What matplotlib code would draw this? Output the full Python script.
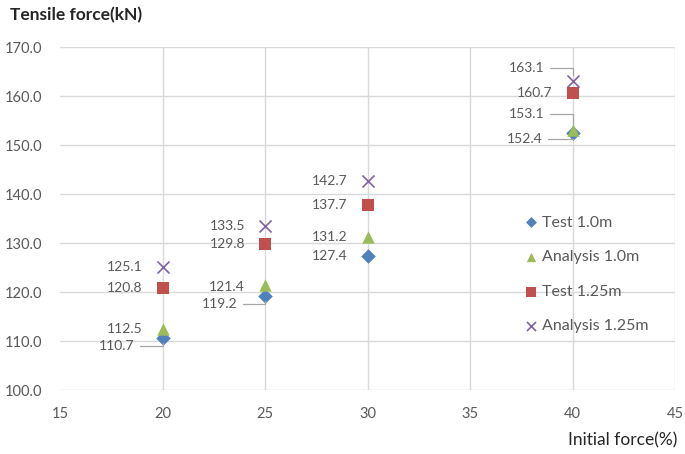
import matplotlib
matplotlib.use('Agg')
import matplotlib.pyplot as plt

plt.rcParams['font.family'] = ['Lato', 'DejaVu Sans']

# data
initial_force = [20, 25, 30, 40]
test_10 = [110.7, 119.2, 127.4, 152.4]
analysis_10 = [112.5, 121.4, 131.2, 153.1]
test_125 = [120.8, 129.8, 137.7, 160.7]
analysis_125 = [125.1, 133.5, 142.7, 163.1]

names = ['Test 1.0m', 'Analysis 1.0m', 'Test 1.25m', 'Analysis 1.25m']
x_ticks = [15, 20, 25, 30, 35, 40, 45]
y_ticks = [100, 110, 120, 130, 140, 150, 160, 170]

W, H = 685, 454
fig = plt.figure(figsize=(W / 100, H / 100), dpi=100)
ax = fig.add_axes([60 / W, 1 - 390 / H, (675 - 60) / W, (390 - 47) / H])

gray = '#595959'
grid_c = '#d9d9d9'

series = [
    (test_10, 'D', '#4f81bd', 55),
    (analysis_10, '^', '#9bbb59', 80),
    (test_125, 's', '#c0504d', 75),
    (analysis_125, 'x', '#8064a2', 75),
]
for (vals, mk, col, sz), name in zip(series, names):
    if mk == 'x':
        ax.scatter(initial_force, vals, marker=mk, s=sz, color=col, linewidths=1.2,
                   label=name, zorder=3)
    else:
        ax.scatter(initial_force, vals, marker=mk, s=sz, color=col, label=name,
                   zorder=3, linewidths=0)

# data labels: (dx, dy) offsets in pixels from the point, leader flag
offsets = {
    0: [(-18, -8, True), (-18, -8, True), (-20, 0, False), (-20, -6, True)],
    1: [(-20, 0, False), (-20, -2, False), (-20, 0, False), (-18, 16, True)],
    2: [(-20, 0, False), (-20, 0, False), (-20, 0, False), (-20, 0, False)],
    3: [(-20, 0, False), (-20, 0, False), (-20, 0, False), (-18, 13, True)],
}
all_vals = [test_10, analysis_10, test_125, analysis_125]
for si, vals in enumerate(all_vals):
    for pi, (xv, yv) in enumerate(zip(initial_force, vals)):
        dx, dy, leader = offsets[si][pi]
        if leader:
            ax.annotate('%.1f' % yv, (xv, yv), xytext=(dx - 10, dy),
                        textcoords='offset pixels', ha='right', va='center',
                        fontsize=10, color=gray,
                        arrowprops=dict(arrowstyle='-', color='#a6a6a6', lw=0.9,
                                        shrinkA=2, shrinkB=4,
                                        connectionstyle='angle,angleA=0,angleB=90,rad=0'))
        else:
            ax.annotate('%.1f' % yv, (xv, yv), xytext=(dx, dy),
                        textcoords='offset pixels', ha='right', va='center',
                        fontsize=10, color=gray)

ax.set_xlim(15, 45)
ax.set_ylim(100, 170)
ax.set_xticks(x_ticks)
ax.set_yticks(y_ticks)
ax.set_yticklabels(['%.1f' % v for v in y_ticks])
ax.grid(True, color=grid_c, lw=1)
ax.set_axisbelow(True)
# no vertical gridline at the left edge
ax.get_xgridlines()[0].set_visible(False)
for s in ax.spines.values():
    s.set_visible(False)
ax.tick_params(length=0, colors=gray, labelsize=10.5)
ax.tick_params(axis='x', pad=12)
ax.tick_params(axis='y', pad=13)

fig.text(10 / W, 1 - 15 / H, 'Tensile force(kN)', fontsize=12.5, fontweight='bold',
         color='#262626', ha='left', va='center')
fig.text(677 / W, 1 - 440 / H, 'Initial force(%)', fontsize=12.5, color='#262626',
         ha='right', va='center')

ax.legend(loc='upper left', bbox_to_anchor=(519 / W, 1 - 209 / H),
          bbox_transform=fig.transFigure, frameon=False, fontsize=11.5,
          labelcolor=gray, labelspacing=1.28, handlelength=0.75, handletextpad=0.3,
          markerscale=0.75, borderaxespad=0)

fig.savefig('out.png', dpi=100)
